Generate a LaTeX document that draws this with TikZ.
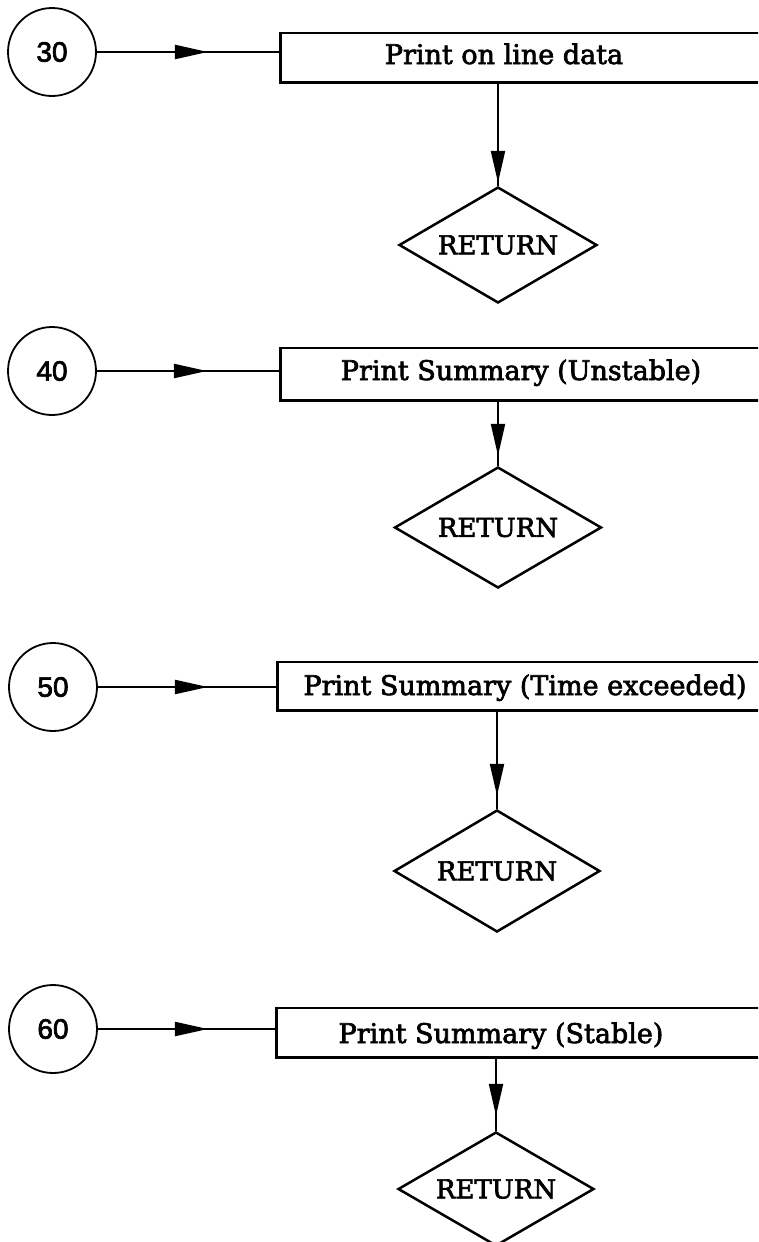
\documentclass[tikz,border=0pt]{standalone}
\usepackage{fontspec}
\setmainfont{DejaVu Serif}
\newfontfamily\boxfont[BoldFont={DejaVu Serif},BoldFeatures={FakeBold=2.5}]{DejaVu Serif}
\newfontfamily\numfont[BoldFont={Liberation Sans},BoldFeatures={FakeBold=2.5}]{Liberation Sans}
\usetikzlibrary{shapes.geometric,arrows.meta,decorations.markings}
\begin{document}
\begin{tikzpicture}[x=1pt,y=-1pt,
  numcirc/.style={circle,draw,line width=1.8pt,minimum size=88pt,inner sep=0pt,
    font=\numfont\bfseries\fontsize{28}{28}\selectfont},
  boxshape/.style={rectangle,draw=none,anchor=west,minimum width=540pt,
    minimum height=#1,inner sep=0pt},
  boxtext/.style={anchor=base,inner sep=0pt,font=\boxfont\bfseries\fontsize{27}{27}\selectfont},
  retdiamond/.style={diamond,draw,line width=2.5pt,inner sep=0pt,aspect=1.7,
    font=\boxfont\bfseries\fontsize{26}{26}\selectfont},
  conn/.style={line width=2.2pt},
  harrow/.style={postaction={decorate,decoration={markings,
    mark=at position #1 with {\arrow{Triangle[length=33pt,width=14pt]}}}}},
  varrow/.style={postaction={decorate,decoration={markings,
    mark=at position #1 with {\arrow{Triangle[length=32pt,width=14pt]}}}}},
  boxtop/.style={line width=2.4pt},
  boxbot/.style={line width=3.4pt},
  boxleft/.style={line width=3pt}
]
\useasboundingbox (0,0) rectangle (758,1242);
\clip (0,0) rectangle (758,1242);

% ---------- block 30 ----------
\node[numcirc] (c1) at (52,52) {30};
\node[boxshape=49pt] (b1) at (280,57.5) {};
\node[boxtext] (t1) at (504,64) {Print on line data};
\node[retdiamond,minimum width=198pt,minimum height=116pt] (d1) at (498,245) {RETURN};
\draw[boxtop] (b1.north west) -- (b1.north east);
\draw[boxbot] (b1.south west) -- (b1.south east);
\draw[boxleft] ([yshift=1pt]b1.north west) -- ([yshift=-1.5pt]b1.south west);
\draw[conn,harrow=111pt] (c1.east) -- (c1.east -| b1.west);
\draw[conn,varrow=-3pt] (d1.north |- b1.south) -- (d1.north);

% ---------- block 40 ----------
\node[numcirc] (c2) at (52,371) {40};
\node[boxshape=52pt] (b2) at (280,374) {};
\node[boxtext] (t2) at (521,380) {Print Summary (Unstable)};
\node[retdiamond,minimum width=207pt,minimum height=121pt] (d2) at (498,527.5) {RETURN};
\draw[boxtop] (b2.north west) -- (b2.north east);
\draw[boxbot] (b2.south west) -- (b2.south east);
\draw[boxleft] ([yshift=1pt]b2.north west) -- ([yshift=-1.5pt]b2.south west);
\draw[conn,harrow=110pt] (c2.east) -- (c2.east -| b2.west);
\draw[conn,varrow=-10pt] (d2.north |- b2.south) -- (d2.north);

% ---------- block 50 ----------
\node[numcirc] (c3) at (53,687) {50};
\node[boxshape=48pt] (b3) at (277,686) {};
\node[boxtext] (t3) at (525,695) {Print Summary (Time exceeded)};
\node[retdiamond,minimum width=206pt,minimum height=122pt] (d3) at (497,871) {RETURN};
\draw[boxtop] (b3.north west) -- (b3.north east);
\draw[boxbot] (b3.south west) -- (b3.south east);
\draw[boxleft] ([yshift=1pt]b3.north west) -- ([yshift=-1.5pt]b3.south west);
\draw[conn,harrow=110pt] (c3.east) -- (c3.east -| b3.west);
\draw[conn,varrow=-13pt] (d3.north |- b3.south) -- (d3.north);

% ---------- block 60 ----------
\node[numcirc] (c4) at (53,1029) {60};
\node[boxshape=49pt] (b4) at (276,1032.5) {};
\node[boxtext] (t4) at (501,1043) {Print Summary (Stable)};
\node[retdiamond,minimum width=196pt,minimum height=114pt] (d4) at (496,1189) {RETURN};
\draw[boxtop] (b4.north west) -- (b4.north east);
\draw[boxbot] (b4.south west) -- (b4.south east);
\draw[boxleft] ([yshift=1pt]b4.north west) -- ([yshift=-1.5pt]b4.south west);
\draw[conn,harrow=110pt] (c4.east) -- (c4.east -| b4.west);
\draw[conn,varrow=-15pt] (d4.north |- b4.south) -- (d4.north);
\end{tikzpicture}
\end{document}
